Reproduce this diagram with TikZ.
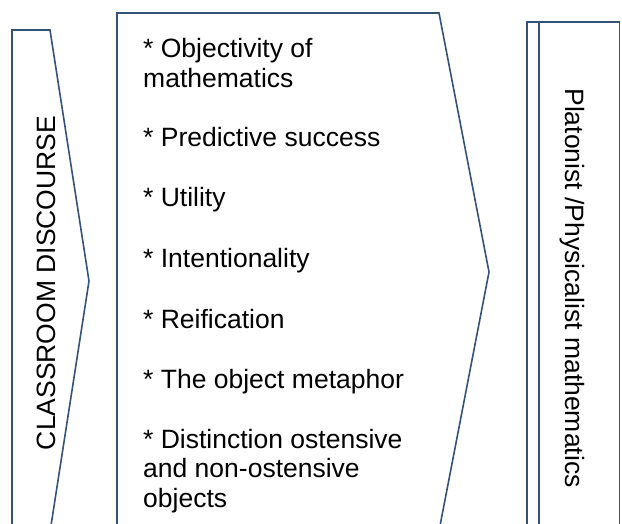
\documentclass[tikz,border=0pt]{standalone}
\usepackage{fontspec}
\setmainfont{Liberation Sans}
\definecolor{edgeblue}{RGB}{52,82,122}
\tikzset{
  outline/.style={draw=edgeblue, line width=1.6pt, line join=miter},
  item/.style={anchor=base west, inner sep=0pt, font=\fontsize{26.5}{30}\selectfont},
  sidetext/.style={anchor=base, inner sep=0pt, font=\fontsize{26.5}{30}\selectfont}
}
\begin{document}
\begin{tikzpicture}[x=1pt, y=-1pt]
\useasboundingbox (0,0) rectangle (622,524);
\clip (0,0) rectangle (622,524);

% left chevron
\draw[outline] (12,530) -- (12,30) -- (50,30) -- (89,281) -- (50,532);
\node[sidetext, rotate=90] (discourse) at (55,283) {CLASSROOM DISCOURSE};

% middle chevron with the list
\draw[outline] (117,530) -- (117,13) -- (439,13) -- (489,272) -- (439,531);

\foreach \y/\t [count=\i] in {58/{* Objectivity of}, 87.5/mathematics,
    147/{* Predictive success}, 207/{* Utility}, 267.5/{* Intentionality},
    328/{* Reification}, 388/{* The object metaphor},
    448/{* Distinction ostensive}, 477.5/{and non-ostensive}, 507/objects} {
  \node[item] (line\i) at (143,\y) {\t};
}

% right box
\draw[outline] (527,530) -- (527,22) -- (619.5,22) -- (619.5,530);
\draw[outline] (539,22) -- (539,530);
\node[sidetext, rotate=-90] (platonist) at (565,288) {Platonist /Physicalist mathematics};
\end{tikzpicture}
\end{document}
